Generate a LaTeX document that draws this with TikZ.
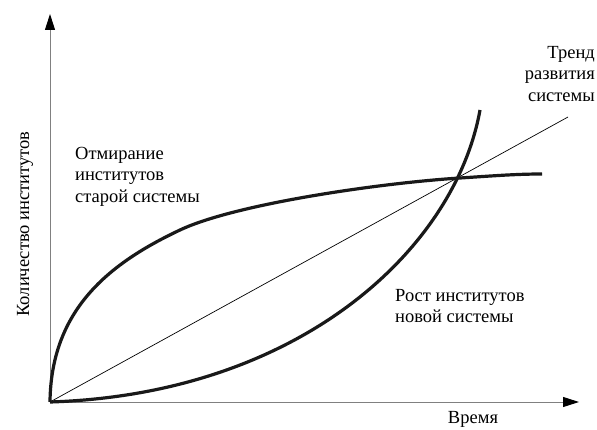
\documentclass[tikz,border=0pt]{standalone}
\usepackage{fontspec}
\setmainfont{LiberationSerif}[Extension=.ttf,UprightFont=*-Regular]
\usetikzlibrary{arrows.meta}
\begin{document}
\begin{tikzpicture}
  [x=1pt,y=1pt,every node/.style={inner sep=0pt,font=\rmfamily\fontsize{18.5}{21.5}\selectfont}]
  \tikzstyle{axis} = [draw=black!50,line width=1pt,-{Triangle[length=16pt,width=10pt,black]}]
  \tikzstyle{curve} = [draw=black!90,line width=3.2pt,line join=round]
  \useasboundingbox (0,0) rectangle (597,429);
  \coordinate (o) at (50,27);
  \coordinate (ytip) at (50,415);
  \coordinate (xtip) at (579,27);
  \coordinate (tr) at (568,312);
  \coordinate (x) at (460,251);
  \coordinate (oldend) at (542,255);
  \coordinate (newend) at (480,319);
  % axes
  \foreach \dest in {ytip,xtip}
   \draw[axis] (o) -- (\dest);
  % trend
  \draw[line width=0.7pt] (o) -- (tr);
  % old and new institutions
  \draw[curve] (o) .. controls (51,120) and (110,166) .. (180,199)
    .. controls (235,225) and (380,246) .. (x)
    .. controls (490,252.9) and (515,255) .. (oldend);
  \draw[curve] (o) .. controls (300,35) and (455,180) .. (newend);
  % labels
  \node[rotate=90] (ylab) at (25,205) {Количество институтов};
  \node[anchor=base] (xlab) at (473,6) {Время};
  \node[anchor=north west,align=left] (old) at (75,282) {Отмирание\\институтов\\старой системы};
  \node[anchor=north east,align=right] (trend) at (595,383) {Тренд\\развития\\системы};
  \node[anchor=north west,align=left] (new) at (395,140) {Рост институтов\\новой системы};
\end{tikzpicture}
\end{document}
